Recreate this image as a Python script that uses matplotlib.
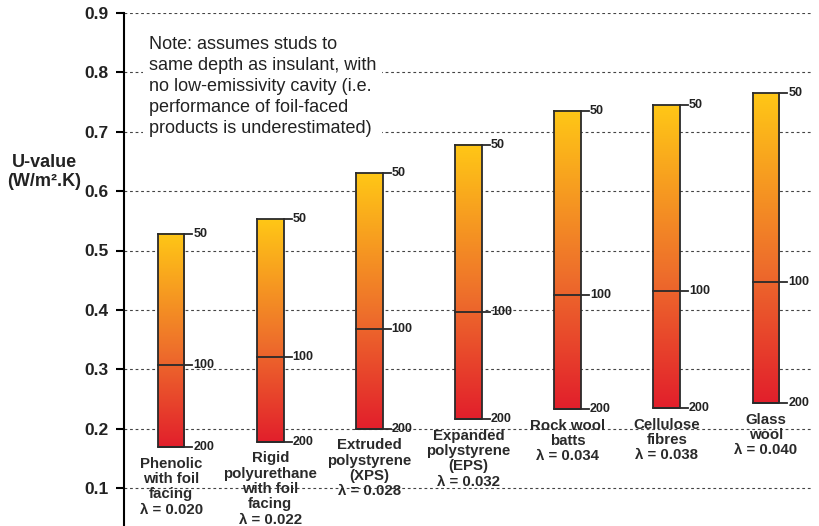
import numpy as np
import matplotlib
matplotlib.use('Agg')
import matplotlib.pyplot as plt
from matplotlib.colors import LinearSegmentedColormap

plt.rcParams['font.family'] = ['Liberation Sans', 'DejaVu Sans']

# U-values for insulant thickness 50 / 100 / 200 mm
materials = ["Phenolic\nwith foil\nfacing", "Rigid\npolyurethane\nwith foil\nfacing",
             "Extruded\npolystyrene\n(XPS)", "Expanded\npolystyrene\n(EPS)",
             "Rock wool\nbatts", "Cellulose\nfibres", "Glass\nwool"]
lambdas = ["0.020", "0.022", "0.028", "0.032", "0.034", "0.038", "0.040"]
u_50 = [0.528, 0.553, 0.631, 0.678, 0.735, 0.745, 0.765]
u_100 = [0.307, 0.321, 0.368, 0.397, 0.425, 0.432, 0.447]
u_200 = [0.169, 0.178, 0.200, 0.216, 0.233, 0.235, 0.243]
thick_labels = ["50", "100", "200"]

note = ("Note: assumes studs to\nsame depth as insulant, with\nno low-emissivity cavity (i.e.\n"
        "performance of foil-faced\nproducts is underestimated)")

cmap = LinearSegmentedColormap.from_list(
    "heat", [(0, "#E21F2C"), (0.45, "#EE6F2B"), (1, "#FFC716")])
grad = np.linspace(0, 1, 256).reshape(-1, 1)

fig = plt.figure(figsize=(8.19, 5.26), dpi=100)
ax = fig.add_axes([124/819, 0, (812-124)/819, (526-13)/526])

w = 0.27
for i in range(len(materials)):
    x0, x1 = i - w/2, i + w/2
    ax.imshow(grad, cmap=cmap, origin='lower', aspect='auto',
              extent=[x0, x1, u_200[i], u_50[i]], zorder=3)
    ax.plot([x0, x0, x1, x1], [u_50[i], u_200[i], u_200[i], u_50[i]],
            color='#2a2a2a', lw=1.3, zorder=4)
    for val, lab in zip([u_50[i], u_100[i], u_200[i]], thick_labels):
        ax.plot([x0, x1 + 0.08], [val, val], color='#2a2a2a', lw=1.3, zorder=4)
        ax.text(x1 + 0.09, val, lab, fontsize=9, fontweight='bold',
                color='#222222', va='center', ha='left', zorder=5)
    ax.annotate(materials[i] + "\n\u03bb = " + lambdas[i], (i, u_200[i]),
                xytext=(0, -7), textcoords='offset points', ha='center', va='top',
                fontsize=10.8, fontweight='bold', color='#2a2a2a', linespacing=1.12,
                zorder=5)

ax.set_xlim(-0.475, 6.465)
ax.set_ylim(0.036, 0.9)
ax.set_yticks(np.arange(0.1, 0.91, 0.1))
ax.set_yticklabels(["%.1f" % v for v in np.arange(0.1, 0.91, 0.1)],
                   fontsize=12.5, fontweight='bold', color='#222222')
ax.set_xticks([])
ax.tick_params(axis='y', direction='out', length=6, width=1.5, pad=5)
for s in ['top', 'right', 'bottom']:
    ax.spines[s].set_visible(False)
ax.spines['left'].set_linewidth(1.5)
ax.yaxis.grid(True, linestyle=(0, (2.5, 2.5)), color='#444444', lw=0.8)
ax.set_axisbelow(True)

ax.text(0.036, 0.955, note, transform=ax.transAxes,
        fontsize=13, va='top', ha='left', linespacing=1.3, color='#222222',
        bbox=dict(facecolor='white', edgecolor='none', pad=4), zorder=2)

fig.text(44/819, 1 - 172/526, "U-value\n(W/m\u00b2.K)", ha='center', va='center',
         fontsize=13, fontweight='bold', color='#222222', linespacing=1.1)

fig.savefig("out.png", dpi=100)
